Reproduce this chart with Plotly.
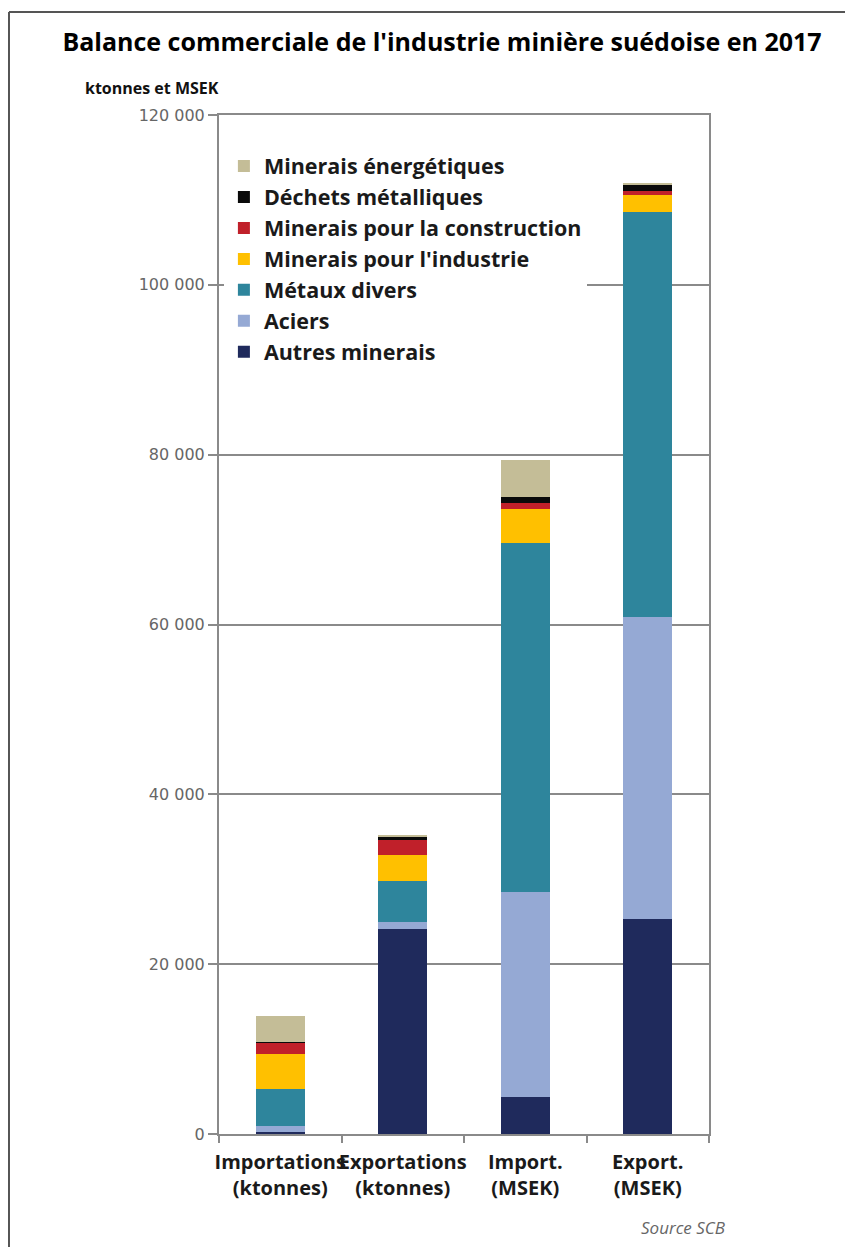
import plotly.graph_objects as go

# ── Data ───────────────────────────────────────────────────────────────────
CATEGORIES = ["Importations<br>(ktonnes)", "Exportations<br>(ktonnes)",
              "Import.<br>(MSEK)", "Export.<br>(MSEK)"]

AUTRES_MINERAIS   = [270, 24100, 4350, 25300]
ACIERS            = [700, 900, 24150, 35600]
METAUX_DIVERS     = [4300, 4800, 41150, 47650]
MIN_INDUSTRIE     = [4200, 3050, 3900, 2050]
MIN_CONSTRUCTION  = [1250, 1750, 800, 400]
DECHETS_METAL     = [100, 350, 650, 700]
MIN_ENERGETIQUES  = [3100, 300, 4350, 250]

Y_TICKVALS = [0, 20000, 40000, 60000, 80000, 100000, 120000]
Y_TICKTEXT = ["0", "20 000", "40 000", "60 000", "80 000", "100 000", "120 000"]

# stacking order bottom -> top
SERIES = [
    ("Autres minerais",               AUTRES_MINERAIS,  "#1F2A5C"),
    ("Aciers",                        ACIERS,           "#95A9D4"),
    ("Métaux divers",                 METAUX_DIVERS,    "#2E859C"),
    ("Minerais pour l'industrie",     MIN_INDUSTRIE,    "#FFC000"),
    ("Minerais pour la construction", MIN_CONSTRUCTION, "#C0202A"),
    ("Déchets métalliques",           DECHETS_METAL,    "#0A0A0A"),
    ("Minerais énergétiques",         MIN_ENERGETIQUES, "#C4BD97"),
]

_AXIS = "#8a8a8a"
_FONT = "Open Sans, sans-serif"

# page body has an 8px margin, so the figure is placed 8px right/down
_OFF = 8

# ── Figure ─────────────────────────────────────────────────────────────────
fig = go.Figure()
n = len(SERIES)
for i, (name, vals, clr) in enumerate(SERIES):
    fig.add_trace(go.Bar(
        x=CATEGORIES, y=vals, name=name, legendgroup=name,
        legendrank=n - i,
        marker=dict(color=clr, line=dict(width=0)),
    ))

fig.update_layout(
    width=853, height=1247,
    barmode="stack", bargap=0.6,
    paper_bgcolor="white", plot_bgcolor="white",
    margin=dict(l=219 - _OFF, r=144 + _OFF, t=115 - _OFF, b=113 + _OFF),
    font=dict(family=_FONT, color="#222"),
    title=dict(
        text="<b>Balance commerciale de l'industrie minière suédoise en 2017</b>",
        font=dict(size=25, color="#000", family=_FONT),
        x=(442 - _OFF) / 853, xanchor="center",
        y=1 - (42 - _OFF) / 1247, yanchor="middle",
    ),
    legend=dict(
        traceorder="grouped", tracegroupgap=0,
        x=0.01, xanchor="left", y=0.970, yanchor="top",
        bgcolor="white", borderwidth=0,
        font=dict(size=21.5, color="#1a1a1a", family=_FONT, weight="bold"),
    ),
    showlegend=True,
)

fig.update_yaxes(
    range=[0, 120000], tickvals=Y_TICKVALS, ticktext=Y_TICKTEXT,
    showline=True, linecolor=_AXIS, linewidth=2, mirror=True,
    ticks="outside", ticklen=9, tickcolor=_AXIS, tickwidth=1.5,
    showgrid=True, gridcolor=_AXIS, gridwidth=1.5, zeroline=False,
    tickfont=dict(size=16, color="#666", family="DejaVu Sans, sans-serif"),
)
fig.update_xaxes(
    showline=True, linecolor=_AXIS, linewidth=2, mirror=True,
    ticks="outside", tickson="boundaries", ticklen=7, tickcolor=_AXIS, tickwidth=1.5,
    tickangle=0, ticklabelstandoff=9,
    tickfont=dict(size=20, color="#1a1a1a", family=_FONT, weight="bold"),
)

# Unit label and source
fig.add_annotation(text="<b>ktonnes et MSEK</b>", xref="paper", yref="paper",
                   x=-0.2776, y=1.0265, xanchor="left", yanchor="middle",
                   showarrow=False, font=dict(size=16, color="#111", family=_FONT))
fig.add_annotation(text="<i>Source SCB</i>", xref="paper", yref="paper",
                   x=1.037, y=-0.0922, xanchor="right", yanchor="middle",
                   showarrow=False, font=dict(size=17, color="#666", family=_FONT))

# Outer frame (left + top edges)
fig.add_shape(type="line", xref="paper", yref="paper",
              x0=-0.4286, x1=-0.4286, y0=1.1011, y1=-0.2,
              line=dict(color="#555", width=2))
fig.add_shape(type="line", xref="paper", yref="paper",
              x0=-0.4286, x1=1.4, y0=1.1011, y1=1.1011,
              line=dict(color="#555", width=2))

fig.write_html("out.html")
